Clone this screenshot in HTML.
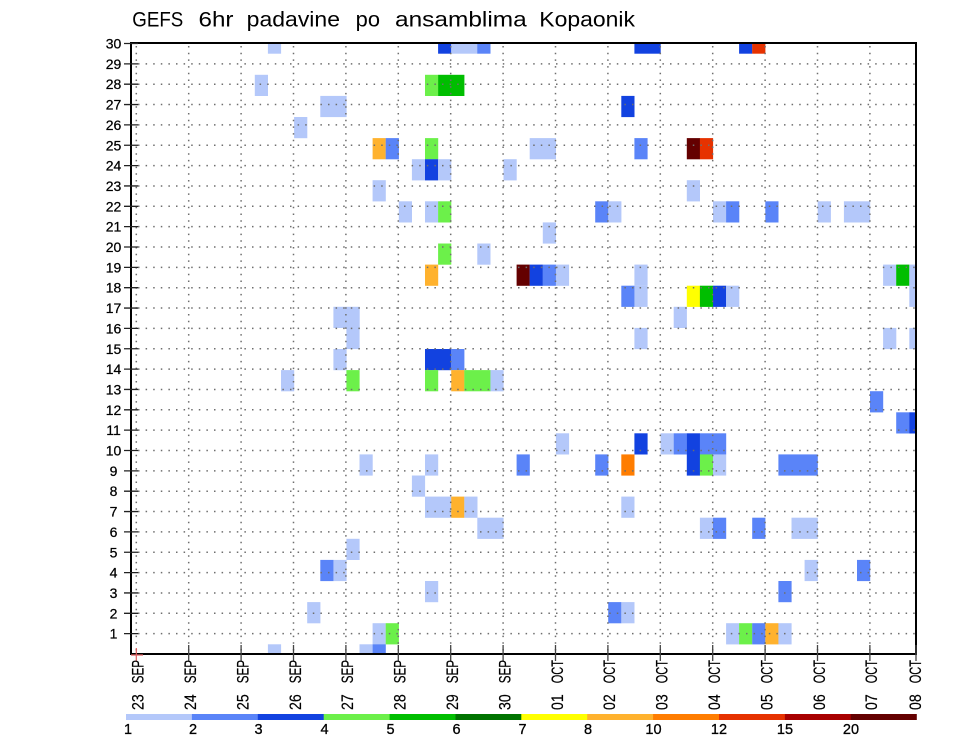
<!DOCTYPE html>
<html>
<head>
<meta charset="utf-8">
<style>
html,body{margin:0;padding:0;background:#fff;}
svg{display:block;}
.lb{fill:#b4c8fa}
.mb{fill:#5a84f8}
.db{fill:#1242e0}
.lg{fill:#6cf04a}
.g{fill:#00be00}
.dg{fill:#007300}
.y{fill:#ffff00}
.o8{fill:#ffb22e}
.o10{fill:#ff7d00}
.r12{fill:#e63200}
.r15{fill:#a80000}
.r20{fill:#640000}
text{font-family:"Liberation Sans",sans-serif;fill:#000;}
</style>
</head>
<body>
<svg width="960" height="742" viewBox="0 0 960 742" xmlns="http://www.w3.org/2000/svg">
<rect x="0" y="0" width="960" height="742" fill="#fff"/>

<!-- Title -->
<g style="font-size:21px">
<text x="132.3" y="26.7" textLength="51" lengthAdjust="spacingAndGlyphs">GEFS</text>
<text x="198.5" y="26.7" textLength="35" lengthAdjust="spacingAndGlyphs">6hr</text>
<text x="246.7" y="26.7" textLength="93.3" lengthAdjust="spacingAndGlyphs">padavine</text>
<text x="355.7" y="26.7" textLength="24.3" lengthAdjust="spacingAndGlyphs">po</text>
<text x="395" y="26.7" textLength="131.7" lengthAdjust="spacingAndGlyphs">ansamblima</text>
<text x="539.3" y="26.7" textLength="95.7" lengthAdjust="spacingAndGlyphs">Kopaonik</text>
</g>

<!-- Cells -->
<g>
<rect class="lb" x="267.9" y="44" width="13.2" height="9.7"/>
<rect class="db" x="438.1" y="44" width="13.2" height="9.7"/>
<rect class="lb" x="451.2" y="44" width="26.3" height="9.7"/>
<rect class="mb" x="477.3" y="44" width="13.2" height="9.7"/>
<rect class="db" x="634.4" y="44" width="26.3" height="9.7"/>
<rect class="db" x="739.1" y="44" width="13.2" height="9.7"/>
<rect class="r12" x="752.2" y="44" width="13.2" height="9.7"/>
<rect class="lb" x="254.8" y="74.8" width="13.2" height="21.2"/>
<rect class="lg" x="425.0" y="74.8" width="13.2" height="21.2"/>
<rect class="g" x="438.1" y="74.8" width="26.3" height="21.2"/>
<rect class="lb" x="320.3" y="95.9" width="26.3" height="21.2"/>
<rect class="db" x="621.3" y="95.9" width="13.2" height="21.2"/>
<rect class="lb" x="294.1" y="117.0" width="13.2" height="21.2"/>
<rect class="o8" x="372.6" y="138.1" width="13.2" height="21.2"/>
<rect class="mb" x="385.7" y="138.1" width="13.2" height="21.2"/>
<rect class="lg" x="425.0" y="138.1" width="13.2" height="21.2"/>
<rect class="lb" x="529.7" y="138.1" width="26.3" height="21.2"/>
<rect class="mb" x="634.4" y="138.1" width="13.2" height="21.2"/>
<rect class="r20" x="686.8" y="138.1" width="13.2" height="21.2"/>
<rect class="r12" x="699.9" y="138.1" width="13.2" height="21.2"/>
<rect class="lb" x="411.9" y="159.2" width="13.2" height="21.2"/>
<rect class="db" x="425.0" y="159.2" width="13.2" height="21.2"/>
<rect class="lb" x="438.1" y="159.2" width="13.2" height="21.2"/>
<rect class="lb" x="503.5" y="159.2" width="13.2" height="21.2"/>
<rect class="lb" x="372.6" y="180.2" width="13.2" height="21.2"/>
<rect class="lb" x="686.8" y="180.2" width="13.2" height="21.2"/>
<rect class="lb" x="398.8" y="201.3" width="13.2" height="21.2"/>
<rect class="lb" x="425.0" y="201.3" width="13.2" height="21.2"/>
<rect class="lg" x="438.1" y="201.3" width="13.2" height="21.2"/>
<rect class="mb" x="595.2" y="201.3" width="13.2" height="21.2"/>
<rect class="lb" x="608.2" y="201.3" width="13.2" height="21.2"/>
<rect class="lb" x="713.0" y="201.3" width="13.2" height="21.2"/>
<rect class="mb" x="726.1" y="201.3" width="13.2" height="21.2"/>
<rect class="mb" x="765.3" y="201.3" width="13.2" height="21.2"/>
<rect class="lb" x="817.7" y="201.3" width="13.2" height="21.2"/>
<rect class="lb" x="843.9" y="201.3" width="26.3" height="21.2"/>
<rect class="lb" x="542.8" y="222.4" width="13.2" height="21.2"/>
<rect class="lg" x="438.1" y="243.5" width="13.2" height="21.2"/>
<rect class="lb" x="477.3" y="243.5" width="13.2" height="21.2"/>
<rect class="o8" x="425.0" y="264.6" width="13.2" height="21.2"/>
<rect class="r20" x="516.6" y="264.6" width="13.2" height="21.2"/>
<rect class="db" x="529.7" y="264.6" width="13.2" height="21.2"/>
<rect class="mb" x="542.8" y="264.6" width="13.2" height="21.2"/>
<rect class="lb" x="555.9" y="264.6" width="13.2" height="21.2"/>
<rect class="lb" x="634.4" y="264.6" width="13.2" height="21.2"/>
<rect class="lb" x="883.1" y="264.6" width="13.2" height="21.2"/>
<rect class="g" x="896.2" y="264.6" width="13.2" height="21.2"/>
<rect class="lb" x="909.3" y="264.6" width="6.7" height="21.2"/>
<rect class="mb" x="621.3" y="285.7" width="13.2" height="21.2"/>
<rect class="lb" x="634.4" y="285.7" width="13.2" height="21.2"/>
<rect class="y" x="686.8" y="285.7" width="13.2" height="21.2"/>
<rect class="g" x="699.9" y="285.7" width="13.2" height="21.2"/>
<rect class="db" x="713.0" y="285.7" width="13.2" height="21.2"/>
<rect class="lb" x="726.1" y="285.7" width="13.2" height="21.2"/>
<rect class="lb" x="909.3" y="285.7" width="6.7" height="21.2"/>
<rect class="lb" x="333.4" y="306.8" width="26.3" height="21.2"/>
<rect class="lb" x="673.7" y="306.8" width="13.2" height="21.2"/>
<rect class="lb" x="346.4" y="327.9" width="13.2" height="21.2"/>
<rect class="lb" x="634.4" y="327.9" width="13.2" height="21.2"/>
<rect class="lb" x="883.1" y="327.9" width="13.2" height="21.2"/>
<rect class="lb" x="909.3" y="327.9" width="6.7" height="21.2"/>
<rect class="lb" x="333.4" y="349.0" width="13.2" height="21.2"/>
<rect class="db" x="425.0" y="349.0" width="26.3" height="21.2"/>
<rect class="mb" x="451.2" y="349.0" width="13.2" height="21.2"/>
<rect class="lb" x="281.0" y="370.1" width="13.2" height="21.2"/>
<rect class="lg" x="346.4" y="370.1" width="13.2" height="21.2"/>
<rect class="lg" x="425.0" y="370.1" width="13.2" height="21.2"/>
<rect class="o8" x="451.2" y="370.1" width="13.2" height="21.2"/>
<rect class="lg" x="464.3" y="370.1" width="26.3" height="21.2"/>
<rect class="lb" x="490.4" y="370.1" width="13.2" height="21.2"/>
<rect class="mb" x="870.0" y="391.2" width="13.2" height="21.2"/>
<rect class="mb" x="896.2" y="412.3" width="13.2" height="21.2"/>
<rect class="db" x="909.3" y="412.3" width="6.7" height="21.2"/>
<rect class="lb" x="555.9" y="433.3" width="13.2" height="21.2"/>
<rect class="db" x="634.4" y="433.3" width="13.2" height="21.2"/>
<rect class="lb" x="660.6" y="433.3" width="13.2" height="21.2"/>
<rect class="mb" x="673.7" y="433.3" width="13.2" height="21.2"/>
<rect class="db" x="686.8" y="433.3" width="13.2" height="21.2"/>
<rect class="mb" x="699.9" y="433.3" width="26.3" height="21.2"/>
<rect class="lb" x="359.5" y="454.4" width="13.2" height="21.2"/>
<rect class="lb" x="425.0" y="454.4" width="13.2" height="21.2"/>
<rect class="mb" x="516.6" y="454.4" width="13.2" height="21.2"/>
<rect class="mb" x="595.2" y="454.4" width="13.2" height="21.2"/>
<rect class="o10" x="621.3" y="454.4" width="13.2" height="21.2"/>
<rect class="db" x="686.8" y="454.4" width="13.2" height="21.2"/>
<rect class="lg" x="699.9" y="454.4" width="13.2" height="21.2"/>
<rect class="lb" x="713.0" y="454.4" width="13.2" height="21.2"/>
<rect class="mb" x="778.4" y="454.4" width="39.4" height="21.2"/>
<rect class="lb" x="411.9" y="475.5" width="13.2" height="21.2"/>
<rect class="lb" x="425.0" y="496.6" width="26.3" height="21.2"/>
<rect class="o8" x="451.2" y="496.6" width="13.2" height="21.2"/>
<rect class="lb" x="464.3" y="496.6" width="13.2" height="21.2"/>
<rect class="lb" x="621.3" y="496.6" width="13.2" height="21.2"/>
<rect class="lb" x="477.3" y="517.7" width="26.3" height="21.2"/>
<rect class="lb" x="699.9" y="517.7" width="13.2" height="21.2"/>
<rect class="mb" x="713.0" y="517.7" width="13.2" height="21.2"/>
<rect class="mb" x="752.2" y="517.7" width="13.2" height="21.2"/>
<rect class="lb" x="791.5" y="517.7" width="26.3" height="21.2"/>
<rect class="lb" x="346.4" y="538.8" width="13.2" height="21.2"/>
<rect class="mb" x="320.3" y="559.9" width="13.2" height="21.2"/>
<rect class="lb" x="333.4" y="559.9" width="13.2" height="21.2"/>
<rect class="lb" x="804.6" y="559.9" width="13.2" height="21.2"/>
<rect class="mb" x="857.0" y="559.9" width="13.2" height="21.2"/>
<rect class="lb" x="425.0" y="581.0" width="13.2" height="21.2"/>
<rect class="mb" x="778.4" y="581.0" width="13.2" height="21.2"/>
<rect class="lb" x="307.2" y="602.1" width="13.2" height="21.2"/>
<rect class="mb" x="608.2" y="602.1" width="13.2" height="21.2"/>
<rect class="lb" x="621.3" y="602.1" width="13.2" height="21.2"/>
<rect class="lb" x="372.6" y="623.2" width="13.2" height="21.2"/>
<rect class="lg" x="385.7" y="623.2" width="13.2" height="21.2"/>
<rect class="lb" x="726.1" y="623.2" width="13.2" height="21.2"/>
<rect class="lg" x="739.1" y="623.2" width="13.2" height="21.2"/>
<rect class="mb" x="752.2" y="623.2" width="13.2" height="21.2"/>
<rect class="o8" x="765.3" y="623.2" width="13.2" height="21.2"/>
<rect class="lb" x="778.4" y="623.2" width="13.2" height="21.2"/>
<rect class="lb" x="267.9" y="644.3" width="13.2" height="9.7"/>
<rect class="lb" x="359.5" y="644.3" width="13.2" height="9.7"/>
<rect class="mb" x="372.6" y="644.3" width="13.2" height="9.7"/>
</g>

<!-- Grid (dotted) -->
<g stroke="#6e6e6e" stroke-width="1.5" stroke-dasharray="1.5 6.1" fill="none">
<path d="M138 633.65H916M138 613.3H916M138 592.95H916M138 572.6H916M138 552.25H916M138 531.9H916M138 511.55H916M138 491.2H916M138 470.85H916M138 450.5H916M138 430.15H916M138 409.8H916M138 389.45H916M138 369.1H916M138 348.75H916M138 328.4H916M138 308.05H916M138 287.7H916M138 267.35H916M138 247H916M138 226.65H916M138 206.3H916M138 185.95H916M138 165.6H916M138 145.25H916M138 124.9H916M138 104.55H916M138 84.2H916M138 63.85H916"/>
<path stroke-dasharray="1.5 5.2" d="M136.3 46V654M188.7 46V654M241.1 46V654M293.5 46V654M345.9 46V654M398.3 46V654M450.7 46V654M503.1 46V654M555.5 46V654M607.9 46V654M660.3 46V654M712.7 46V654M765.1 46V654M817.5 46V654M869.9 46V654"/>
</g>

<!-- Frame -->
<rect x="131" y="43" width="785" height="611" fill="none" stroke="#000" stroke-width="2"/>

<!-- Y ticks -->
<g stroke="#222" stroke-width="1.3">
<path d="M124 633.65H138M124 613.3H138M124 592.95H138M124 572.6H138M124 552.25H138M124 531.9H138M124 511.55H138M124 491.2H138M124 470.85H138M124 450.5H138M124 430.15H138M124 409.8H138M124 389.45H138M124 369.1H138M124 348.75H138M124 328.4H138M124 308.05H138M124 287.7H138M124 267.35H138M124 247H138M124 226.65H138M124 206.3H138M124 185.95H138M124 165.6H138M124 145.25H138M124 124.9H138M124 104.55H138M124 84.2H138M124 63.85H138M124 43.5H138"/>
</g>
<!-- X ticks -->
<g stroke="#444" stroke-width="1.3">
<path d="M188.7 645V661M241.1 645V661M293.5 645V661M345.9 645V661M398.3 645V661M450.7 645V661M503.1 645V661M555.5 645V661M607.9 645V661M660.3 645V661M712.7 645V661M765.1 645V661M817.5 645V661M869.9 645V661M916 645V661"/>
</g>
<g stroke="#e06060" stroke-width="1.2">
<path d="M131 655H143M136.3 648V661"/>
</g>

<!-- Y labels -->
<g style="font-size:14px" text-anchor="middle" stroke="#000" stroke-width="0.25">
<text x="113.5" y="638.65">1</text>
<text x="113.5" y="618.3">2</text>
<text x="113.5" y="597.95">3</text>
<text x="113.5" y="577.6">4</text>
<text x="113.5" y="557.25">5</text>
<text x="113.5" y="536.9">6</text>
<text x="113.5" y="516.55">7</text>
<text x="113.5" y="496.2">8</text>
<text x="113.5" y="475.85">9</text>
<text x="113.5" y="455.5">10</text>
<text x="113.5" y="435.15">11</text>
<text x="113.5" y="414.8">12</text>
<text x="113.5" y="394.45">13</text>
<text x="113.5" y="374.1">14</text>
<text x="113.5" y="353.75">15</text>
<text x="113.5" y="333.4">16</text>
<text x="113.5" y="313.05">17</text>
<text x="113.5" y="292.7">18</text>
<text x="113.5" y="272.35">19</text>
<text x="113.5" y="252">20</text>
<text x="113.5" y="231.65">21</text>
<text x="113.5" y="211.3">22</text>
<text x="113.5" y="190.95">23</text>
<text x="113.5" y="170.6">24</text>
<text x="113.5" y="150.25">25</text>
<text x="113.5" y="129.9">26</text>
<text x="113.5" y="109.55">27</text>
<text x="113.5" y="89.2">28</text>
<text x="113.5" y="68.85">29</text>
<text x="113.5" y="48.5">30</text>
</g>

<!-- X labels (rotated) -->
<g style="font-size:17px" stroke="#000" stroke-width="0.2">
<text transform="translate(143.6,710) rotate(-90)" textLength="15.7" lengthAdjust="spacingAndGlyphs">23</text>
<text transform="translate(143.6,683.3) rotate(-90)" textLength="23.3" lengthAdjust="spacingAndGlyphs">SEP</text>
<text transform="translate(196,710) rotate(-90)" textLength="15.7" lengthAdjust="spacingAndGlyphs">24</text>
<text transform="translate(196,683.3) rotate(-90)" textLength="23.3" lengthAdjust="spacingAndGlyphs">SEP</text>
<text transform="translate(248.4,710) rotate(-90)" textLength="15.7" lengthAdjust="spacingAndGlyphs">25</text>
<text transform="translate(248.4,683.3) rotate(-90)" textLength="23.3" lengthAdjust="spacingAndGlyphs">SEP</text>
<text transform="translate(300.8,710) rotate(-90)" textLength="15.7" lengthAdjust="spacingAndGlyphs">26</text>
<text transform="translate(300.8,683.3) rotate(-90)" textLength="23.3" lengthAdjust="spacingAndGlyphs">SEP</text>
<text transform="translate(353.2,710) rotate(-90)" textLength="15.7" lengthAdjust="spacingAndGlyphs">27</text>
<text transform="translate(353.2,683.3) rotate(-90)" textLength="23.3" lengthAdjust="spacingAndGlyphs">SEP</text>
<text transform="translate(405.6,710) rotate(-90)" textLength="15.7" lengthAdjust="spacingAndGlyphs">28</text>
<text transform="translate(405.6,683.3) rotate(-90)" textLength="23.3" lengthAdjust="spacingAndGlyphs">SEP</text>
<text transform="translate(458,710) rotate(-90)" textLength="15.7" lengthAdjust="spacingAndGlyphs">29</text>
<text transform="translate(458,683.3) rotate(-90)" textLength="23.3" lengthAdjust="spacingAndGlyphs">SEP</text>
<text transform="translate(510.4,710) rotate(-90)" textLength="15.7" lengthAdjust="spacingAndGlyphs">30</text>
<text transform="translate(510.4,683.3) rotate(-90)" textLength="23.3" lengthAdjust="spacingAndGlyphs">SEP</text>
<text transform="translate(562.8,710) rotate(-90)" textLength="15.7" lengthAdjust="spacingAndGlyphs">01</text>
<text transform="translate(562.8,683.3) rotate(-90)" textLength="23.3" lengthAdjust="spacingAndGlyphs">OCT</text>
<text transform="translate(615.2,710) rotate(-90)" textLength="15.7" lengthAdjust="spacingAndGlyphs">02</text>
<text transform="translate(615.2,683.3) rotate(-90)" textLength="23.3" lengthAdjust="spacingAndGlyphs">OCT</text>
<text transform="translate(667.6,710) rotate(-90)" textLength="15.7" lengthAdjust="spacingAndGlyphs">03</text>
<text transform="translate(667.6,683.3) rotate(-90)" textLength="23.3" lengthAdjust="spacingAndGlyphs">OCT</text>
<text transform="translate(720,710) rotate(-90)" textLength="15.7" lengthAdjust="spacingAndGlyphs">04</text>
<text transform="translate(720,683.3) rotate(-90)" textLength="23.3" lengthAdjust="spacingAndGlyphs">OCT</text>
<text transform="translate(772.4,710) rotate(-90)" textLength="15.7" lengthAdjust="spacingAndGlyphs">05</text>
<text transform="translate(772.4,683.3) rotate(-90)" textLength="23.3" lengthAdjust="spacingAndGlyphs">OCT</text>
<text transform="translate(824.8,710) rotate(-90)" textLength="15.7" lengthAdjust="spacingAndGlyphs">06</text>
<text transform="translate(824.8,683.3) rotate(-90)" textLength="23.3" lengthAdjust="spacingAndGlyphs">OCT</text>
<text transform="translate(877.2,710) rotate(-90)" textLength="15.7" lengthAdjust="spacingAndGlyphs">07</text>
<text transform="translate(877.2,683.3) rotate(-90)" textLength="23.3" lengthAdjust="spacingAndGlyphs">OCT</text>
<text transform="translate(921,710) rotate(-90)" textLength="15.7" lengthAdjust="spacingAndGlyphs">08</text>
<text transform="translate(921,683.3) rotate(-90)" textLength="23.3" lengthAdjust="spacingAndGlyphs">OCT</text>
</g>

<!-- Colorbar -->
<g>
<rect class="lb" x="126" y="714" width="66.4" height="6"/>
<rect class="mb" x="191.9" y="714" width="66.4" height="6"/>
<rect class="db" x="257.8" y="714" width="66.4" height="6"/>
<rect class="lg" x="323.7" y="714" width="66.4" height="6"/>
<rect class="g" x="389.6" y="714" width="66.4" height="6"/>
<rect class="dg" x="455.5" y="714" width="66.4" height="6"/>
<rect class="y" x="521.3" y="714" width="66.4" height="6"/>
<rect class="o8" x="587.2" y="714" width="66.4" height="6"/>
<rect class="o10" x="653.1" y="714" width="66.4" height="6"/>
<rect class="r12" x="719.0" y="714" width="66.4" height="6"/>
<rect class="r15" x="784.9" y="714" width="66.4" height="6"/>
<rect class="r20" x="850.8" y="714" width="66" height="6"/>
</g>
<g style="font-size:14.5px" text-anchor="middle" stroke="#000" stroke-width="0.3">
<text x="128" y="734">1</text>
<text x="193" y="734">2</text>
<text x="258.5" y="734">3</text>
<text x="324.5" y="734">4</text>
<text x="390.5" y="734">5</text>
<text x="456.5" y="734">6</text>
<text x="522.5" y="734">7</text>
<text x="588" y="734">8</text>
<text x="653.5" y="734">10</text>
<text x="719" y="734">12</text>
<text x="785" y="734">15</text>
<text x="851" y="734">20</text>
</g>
</svg>
</body>
</html>
